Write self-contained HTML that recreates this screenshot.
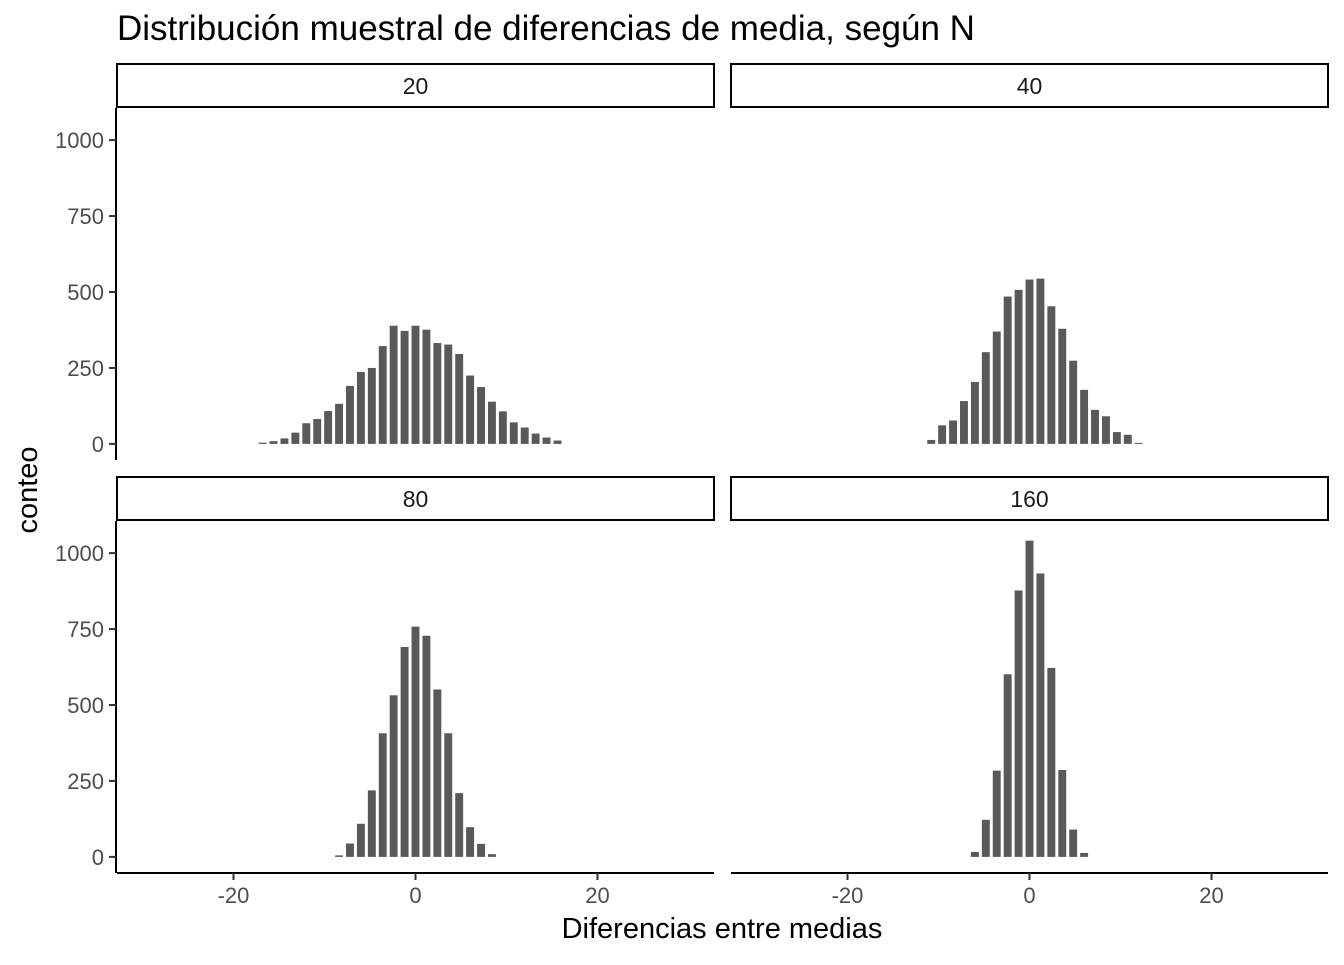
<!DOCTYPE html>
<html><head><meta charset="utf-8"><style>
body{margin:0;background:#fff}
text{font-family:"Liberation Sans",sans-serif}
</style></head><body>
<svg id="chart" width="1344" height="960" xmlns="http://www.w3.org/2000/svg">
<text x="117" y="40" font-size="35" fill="#000">Distribución muestral de diferencias de media, según N</text>
<text x="722" y="938" font-size="29" text-anchor="middle" fill="#000">Diferencias entre medias</text>
<text transform="translate(37,490) rotate(-90)" font-size="29" text-anchor="middle" fill="#000">conteo</text>
<g id="panels"></g>
</svg>
<script>
const panelLabels = ["20","40","80","160"];
const firstCenters = [-16.8, -10.8, -8.4, -6.0];
const binWidth = 1.2;
const counts20 = [4,9,18,37,68,82,108,132,191,237,250,322,389,372,389,376,332,327,296,225,187,139,107,71,54,34,21,11];
const counts40 = [13,61,77,141,204,302,370,485,507,541,544,453,379,274,178,112,91,39,30,2];
const counts80 = [5,44,109,219,407,532,691,758,728,551,407,210,98,43,9];
const counts160 = [16,122,284,601,877,1041,933,622,286,90,13];
const yTicks = [0,250,500,750,1000];
const xTicks = [-20,0,20];
const allCounts = [counts20, counts40, counts80, counts160];

const NS = "http://www.w3.org/2000/svg";
const root = document.getElementById("panels");
function mk(tag, attrs, parent){const e=document.createElementNS(NS,tag);for(const k in attrs)e.setAttribute(k,attrs[k]);parent.appendChild(e);return e;}

const panelX = [[117,714],[731,1328],[117,714],[731,1328]];
const panelY = [[107,460],[107,460],[520,873],[520,873]];
const xDom = [-32.8, 32.8], yDom = [-53, 1109];

for (let p = 0; p < 4; p++) {
  const [x0,x1] = panelX[p], [y0,y1] = panelY[p];
  const xs = v => x0 + (v - xDom[0]) / (xDom[1]-xDom[0]) * (x1-x0);
  const ys = v => y1 - (v - yDom[0]) / (yDom[1]-yDom[0]) * (y1-y0);
  const g = mk("g", {}, root);
  
  
  const strip = mk("rect", {x:x0, y:y0-43, width:x1-x0, height:43, fill:"#fff", stroke:"#000", "stroke-width":2}, g);
  
  
  const st = mk("text", {x:(x0+x1)/2, y:y0-13, "font-size":23, "text-anchor":"middle", fill:"#1a1a1a"}, g);
  st.textContent = panelLabels[p];
  
  
  const cs = allCounts[p];
  cs.forEach((c, i) => {
    const center = firstCenters[p] + i * binWidth;
    const bx = xs(center - binWidth/2), bw = xs(center + binWidth/2) - bx;
    const h = Math.max(1, ys(0)-ys(c));
    const r = mk("rect", {x:bx+1.5, y:ys(0)-h, width:bw-3, height:h, fill:"#595959"}, g);
    
    
  });
  if (p % 2 === 0) {
    const ax = mk("line", {x1:x0-1, x2:x0-1, y1:y0+1, y2:y1, stroke:"#000", "stroke-width":2}, g);
    
    
    yTicks.forEach(t => {
      const y = ys(t);
      const tk = mk("line", {x1:x0-8, x2:x0-1, y1:y, y2:y, stroke:"#333", "stroke-width":2}, g);
      
      
      const tl = mk("text", {x:x0-13, y:y+8, "font-size":22, "text-anchor":"end", fill:"#4d4d4d"}, g);
      tl.textContent = t;
      
      
    });
  }
  if (p >= 2) {
    const ax = mk("line", {x1:x0, x2:x1, y1:y1, y2:y1, stroke:"#000", "stroke-width":2}, g);
    
    
    xTicks.forEach(t => {
      const x = xs(t);
      const tk = mk("line", {x1:x, x2:x, y1:y1, y2:y1+7, stroke:"#333", "stroke-width":2}, g);
      
      
      const tl = mk("text", {x:x, y:y1+30, "font-size":22, "text-anchor":"middle", fill:"#4d4d4d"}, g);
      tl.textContent = t;
      
      
    });
  }
}
</script>
</body></html>
